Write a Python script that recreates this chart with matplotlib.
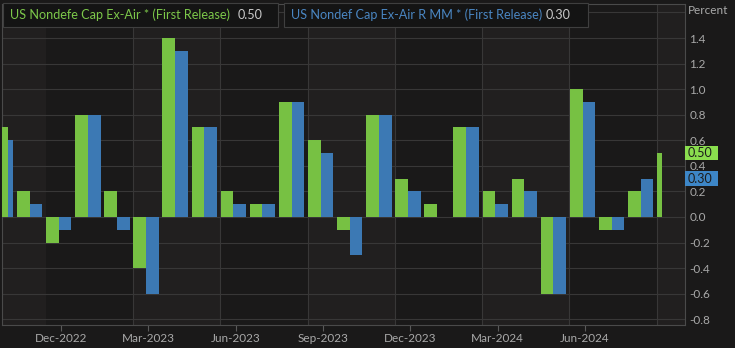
import numpy as np
import matplotlib.pyplot as plt
from matplotlib.patches import Rectangle
import matplotlib.transforms as mtransforms

plt.rcParams['font.family'] = ['Lato', 'DejaVu Sans']

# monthly data, Oct-2022 .. Sep-2024
months = ['Oct-2022', 'Nov-2022', 'Dec-2022', 'Jan-2023', 'Feb-2023', 'Mar-2023',
          'Apr-2023', 'May-2023', 'Jun-2023', 'Jul-2023', 'Aug-2023', 'Sep-2023',
          'Oct-2023', 'Nov-2023', 'Dec-2023', 'Jan-2024', 'Feb-2024', 'Mar-2024',
          'Apr-2024', 'May-2024', 'Jun-2024', 'Jul-2024', 'Aug-2024', 'Sep-2024']
first_release = [0.7, 0.2, -0.2, 0.8, 0.2, -0.4, 1.4, 0.7, 0.2, 0.1, 0.9, 0.6,
                 -0.1, 0.8, 0.3, 0.1, 0.7, 0.2, 0.3, -0.6, 1.0, -0.1, 0.2, 0.5]
real_mm = [0.6, 0.1, -0.1, 0.8, -0.1, -0.6, 1.3, 0.7, 0.1, 0.1, 0.9, 0.5,
           -0.3, 0.8, 0.2, 0.0, 0.7, 0.1, 0.2, -0.6, 0.9, -0.1, 0.3, np.nan]
tick_months = ['Dec-2022', 'Mar-2023', 'Jun-2023', 'Sep-2023', 'Dec-2023', 'Mar-2024', 'Jun-2024']
name1 = 'US Nondefe Cap Ex-Air * (First Release)'
name2 = 'US Nondef Cap Ex-Air R MM * (First Release)'
last1 = 0.50
last2 = 0.30

c_green = '#77c143'
c_blue = '#3c79b4'
bg = '#1a1919'
band = '#211f1f'
grid = '#383737'
txt = '#a9a9a9'

W, H = 735, 348
fig = plt.figure(figsize=(W / 100, H / 100), dpi=100, facecolor=bg)
ax = fig.add_axes([2 / W, (H - 325) / H, 683 / W, 321 / H])
ax.set_facecolor(bg)

x = np.arange(len(months))
w = 0.437
g_left = x - w
g_width = np.full(len(x), w)
b_left = x.astype(float)
b_width = np.full(len(x), w)
# partial periods at both ends are drawn narrow
fw = 0.185
g_left[0] = x[0] + w - 2 * fw
g_width[0] = fw
b_left[0] = x[0] + w - fw
b_width[0] = fw
g_width[-1] = 0.17

ax.bar(g_left, first_release, width=g_width, align='edge', color=c_green, zorder=3)
ax.bar(b_left, np.nan_to_num(real_mm), width=b_width, align='edge', color=c_blue, zorder=3)

xmin, xmax = 0.05, 23.52
ax.set_xlim(xmin, xmax)
ax.set_ylim(-0.845, 1.666)

# quarter bands and separators
qidx = [months.index(m) for m in tick_months] + [months.index('Sep-2024')]
bounds = [xmin] + [i - 0.45 for i in qidx] + [xmax]
for k in range(0, len(bounds) - 1, 2):
    ax.axvspan(bounds[k], bounds[k + 1], color=band, zorder=0, lw=0)
for b in bounds[2:-1]:
    ax.axvline(b, color=grid, lw=0.8, zorder=1)

yt = np.round(np.arange(-0.8, 1.41, 0.2), 1) + 0.0
for v in list(yt) + [1.6]:
    ax.axhline(v, color=grid, lw=0.8, zorder=1)

ax.yaxis.tick_right()
ax.set_yticks(yt)
ax.set_yticklabels(['%.1f' % (v if abs(v) > 1e-9 else 0.0) for v in yt])
ax.tick_params(axis='y', length=0, pad=3, labelsize=8.5, labelcolor=txt)
ax.set_xticks([months.index(m) + 0.08 for m in tick_months])
ax.set_xticklabels(tick_months)
ax.tick_params(axis='x', length=4, width=0.8, color='#5a5a5a', pad=2, labelsize=8.5, labelcolor=txt)
for s in ax.spines.values():
    s.set_color('#4a4a4a')
    s.set_linewidth(0.8)

fig.text(688 / W, 1 - 11 / H, 'Percent', color=txt, fontsize=8.5, va='center', ha='left')

# last value tags on the right axis
tr = mtransforms.blended_transform_factory(ax.transAxes, ax.transData)
for val, col in [(last1, '#8ade4e'), (last2, '#3d86c7')]:
    ax.add_patch(Rectangle((1.0, val - 0.058), 33 / 683, 0.117, transform=tr,
                           facecolor=col, edgecolor='none', clip_on=False, zorder=5))
    ax.text(1.0 + 3 / 683, val, '%.2f' % val, transform=tr, color='#1c1c1c',
            fontsize=9, va='center', ha='left', zorder=6, clip_on=False)

# legend boxes on top
for x0, x1, name, col, val, vx in [(3, 278, name1, '#7cc84a', last1, 238),
                                   (284, 588, name2, '#4a86c2', last2, 546)]:
    fig.patches.append(Rectangle((x0 / W, 1 - 27 / H), (x1 - x0) / W, 24 / H,
                                 transform=fig.transFigure, facecolor='#141414',
                                 edgecolor='#3f3f3f', lw=0.8, zorder=10))
    fig.text((x0 + 7) / W, 1 - 15 / H, name, color=col, fontsize=9.1, va='center', zorder=11)
    fig.text(vx / W, 1 - 15 / H, '%.2f' % val, color='#c9c9c9', fontsize=9.1, va='center', zorder=11)

plt.savefig('out.png', dpi=100, facecolor=bg)
